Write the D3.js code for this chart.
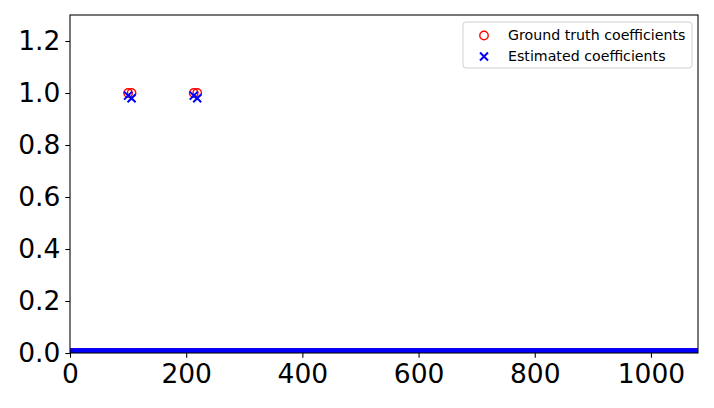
<!DOCTYPE html>
<html><head><meta charset="utf-8">
<script src="https://cdn.jsdelivr.net/npm/d3@7"></script>
<style>body{margin:0;background:#fff}svg{display:block}</style>
</head><body>
<svg id="c" width="714" height="408"></svg>
<script>
// Data
const nFeatures = 1082;               // number of coefficients (indices 0..1081)
const truthIdx = [100, 106, 213, 219]; // non-zero ground-truth indices
const truthVal = [1.0, 1.0, 1.0, 1.0];
const estIdx = [100, 106, 213, 219];   // non-zero estimated indices
const estVal = [0.99, 0.98, 0.99, 0.98];
const xTicks = [0, 200, 400, 600, 800, 1000];
const yTicks = [0.0, 0.2, 0.4, 0.6, 0.8, 1.0, 1.2];
const legendLabels = ["Ground truth coefficients", "Estimated coefficients"];

function sparseToDense(idx, val) {
  const arr = new Array(nFeatures).fill(0);
  idx.forEach((k, i) => arr[k] = val[i]);
  return arr.map((v, i) => ({i, v}));
}
const truth = sparseToDense(truthIdx, truthVal);
const est = sparseToDense(estIdx, estVal);

const svg = d3.select("#c");
const m = {l: 70, r: 698, t: 15, b: 353};
const x = d3.scaleLinear().domain([0, 1081]).range([m.l, m.r]);
const y = d3.scaleLinear().domain([0, 1.3]).range([m.b, m.t]);
const font = "DejaVu Sans, sans-serif";

svg.append("clipPath").attr("id", "clip").append("rect")
  .attr("x", m.l).attr("y", m.t).attr("width", m.r - m.l).attr("height", m.b - m.t);

const R = 4.2, xs = 4;
const plot = svg.append("g").attr("clip-path", "url(#clip)");
plot.selectAll("circle.t").data(truth).join("circle")
  .attr("class", "t")
  .attr("cx", d => x(d.i)).attr("cy", d => y(d.v)).attr("r", R)
  .attr("fill", "none").attr("stroke", "#ff0000").attr("stroke-width", 1.4);
plot.selectAll("path.e").data(est).join("path")
  .attr("class", "e")
  .attr("d", d => {
    const cx = x(d.i), cy = y(d.v);
    return `M${cx-xs},${cy-xs}L${cx+xs},${cy+xs}M${cx-xs},${cy+xs}L${cx+xs},${cy-xs}`;
  })
  .attr("stroke", "#0000ff").attr("stroke-width", 2).attr("fill", "none");

// axes
const xAxis = d3.axisBottom(x).tickValues(xTicks).tickFormat(d3.format("d")).tickSize(4.7).tickPadding(5);
const yAxis = d3.axisLeft(y).tickValues(yTicks).tickFormat(d3.format(".1f")).tickSize(4.7).tickPadding(5);
const gx = svg.append("g").attr("transform", `translate(0,${m.b})`).call(xAxis);
const gy = svg.append("g").attr("transform", `translate(${m.l},0)`).call(yAxis);
[gx, gy].forEach(g => {
  g.select(".domain").remove();
  g.selectAll(".tick line").attr("stroke", "#000").attr("stroke-width", 1.07);
  g.selectAll(".tick text").attr("font-family", font).attr("font-size", 26.5).attr("fill", "#000");
});
gx.selectAll(".tick text").attr("dy", "0.75em");

svg.append("rect").attr("x", m.l).attr("y", m.t).attr("width", m.r - m.l).attr("height", m.b - m.t)
  .attr("fill", "none").attr("stroke", "#000").attr("stroke-width", 1.07);

// legend
const lg = svg.append("g");
lg.append("rect").attr("x", 463).attr("y", 22).attr("width", 229).attr("height", 46).attr("rx", 3)
  .attr("fill", "#fff").attr("fill-opacity", 0.8).attr("stroke", "#d0d0d0").attr("stroke-width", 1);
lg.append("circle").attr("cx", 484).attr("cy", 35.5).attr("r", R)
  .attr("fill", "none").attr("stroke", "#ff0000").attr("stroke-width", 1.4);
lg.append("path").attr("d", `M${484-xs},${56.5-xs}L${484+xs},${56.5+xs}M${484-xs},${56.5+xs}L${484+xs},${56.5-xs}`)
  .attr("stroke", "#0000ff").attr("stroke-width", 2);
lg.selectAll("text").data(legendLabels).join("text")
  .attr("x", 508).attr("y", (d, i) => 35.5 + i * 21).attr("dy", "0.35em")
  .attr("font-family", font).attr("font-size", 14.2).attr("fill", "#000").text(d => d);
</script>
</body></html>
